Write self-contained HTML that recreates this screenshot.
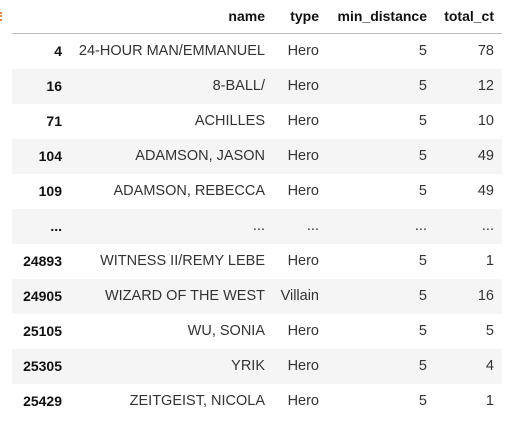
<!DOCTYPE html>
<html><head><meta charset="utf-8"><style>
html,body{margin:0;padding:0;background:#fff;width:522px;height:428px;overflow:hidden;font-family:"Liberation Sans",sans-serif;font-size:14.5px;color:#333}
.mark{position:absolute;left:0;top:12px;width:3px;height:9px;border-left:2px dotted #e8854b}
.row{position:absolute;left:12px;width:490px;height:35px}
.row.g{background:#f5f5f5}
.c{position:absolute;top:0;line-height:35px;text-align:right;white-space:nowrap}
.hdr{position:absolute;left:12px;width:490px;top:0;height:33px;border-bottom:1px solid #bdbdbd}
.hdr .c{line-height:33px;font-weight:bold;color:#111;font-size:14px}
.idx{font-weight:bold;color:#111;font-size:14px}
</style></head><body>
<div class="mark"></div>
<div class="hdr">
<span class="c" style="right:237px">name</span>
<span class="c" style="right:183px">type</span>
<span class="c" style="right:75px">min_distance</span>
<span class="c" style="right:8px">total_ct</span>
</div>
<div id="body"></div>
<script>
const idx=["4","16","71","104","109","...","24893","24905","25105","25305","25429"];
const names=["24-HOUR MAN/EMMANUEL","8-BALL/","ACHILLES","ADAMSON, JASON","ADAMSON, REBECCA","...","WITNESS II/REMY LEBE","WIZARD OF THE WEST","WU, SONIA","YRIK","ZEITGEIST, NICOLA"];
const types=["Hero","Hero","Hero","Hero","Hero","...","Hero","Villain","Hero","Hero","Hero"];
const dists=["5","5","5","5","5","...","5","5","5","5","5"];
const totals=["78","12","10","49","49","...","1","16","5","4","1"];
const body=document.getElementById('body');
const rights=[440,237,183,75,8];
idx.forEach((v,i)=>{
  const r=document.createElement('div');
  r.className='row'+(i%2?' g':'');
  r.style.top=(34+35*i)+'px';
  
  
  const vals=[v,names[i],types[i],dists[i],totals[i]];
  vals.forEach((t,j)=>{
    const s=document.createElement('span');
    s.className='c'+(j===0?' idx':'');
    s.style.right=rights[j]+'px';
    s.textContent=t;
    
    
    r.appendChild(s);
  });
  body.appendChild(r);
});
</script>
</body></html>
